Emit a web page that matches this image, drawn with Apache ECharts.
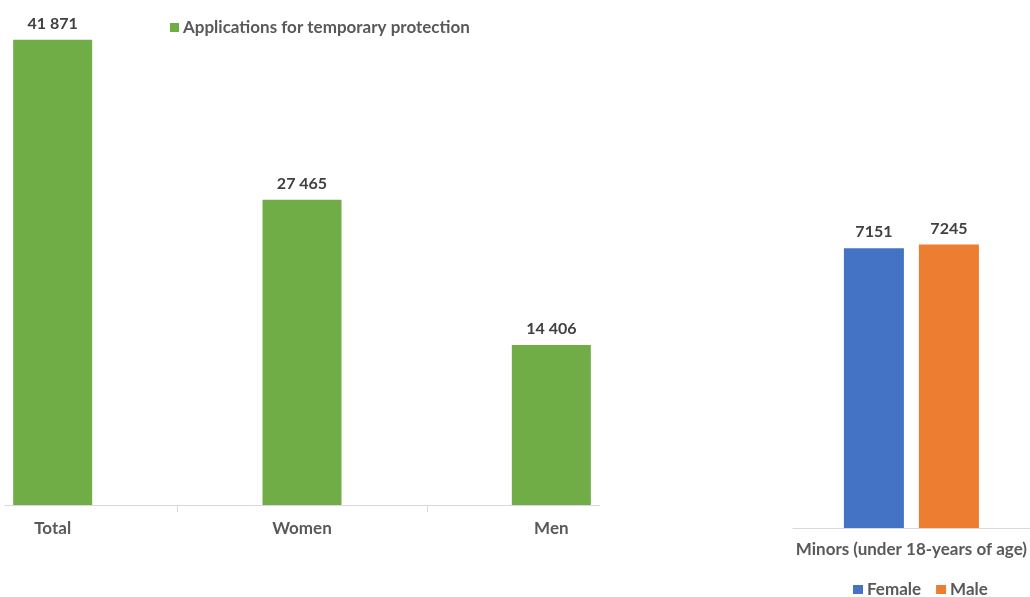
<!DOCTYPE html>
<html>
<head>
<meta charset="utf-8">
<title>Applications for temporary protection</title>
<script src="https://cdn.jsdelivr.net/npm/echarts@6/dist/echarts.min.js"></script>
<style>
  html, body { margin: 0; padding: 0; background: #ffffff; overflow: hidden; }
  #wrap { width: 1030px; height: 597px; overflow: hidden; position: relative; }
  /* the canvas is a little wider than the page: the first category band runs past the left edge */
  #chart { position: absolute; left: -72px; top: 0; width: 1102px; height: 597px; }
</style>
</head>
<body>
<div id="wrap"><div id="chart"></div></div>
<script>
// Applications by group
const groupCategories = ['Total', 'Women', 'Men'];
const groupValues = [41871, 27465, 14406];
const groupSeriesName = 'Applications for temporary protection';

// Minors split by sex
const minorCategories = ['Minors (under 18-years of age)'];
const femaleValues = [7151];
const maleValues = [7245];

const FONT = 'Lato, "Open Sans", sans-serif';
const AXIS_GRAY = '#d9d9d9';
const LABEL_GRAY = '#595959';
const VALUE_GRAY = '#404040';

// Thousands with a space separator, e.g. 41 871
function spaced(v) {
  return String(v).replace(/\B(?=(\d{3})+(?!\d))/g, ' ');
}

const chart = echarts.init(document.getElementById('chart'), null, { renderer: 'canvas' });

const valueLabel = {
  show: true, position: 'top', distance: 8,
  color: VALUE_GRAY, fontSize: 16, fontWeight: 'bold', fontFamily: FONT
};

const option = {
  animation: false,
  backgroundColor: '#ffffff',
  textStyle: { fontFamily: FONT },
  grid: [
    { left: 0, top: 5, width: 748, height: 500 },
    { left: 865, top: 215, width: 237, height: 313 }
  ],
  xAxis: [
    {
      type: 'category', gridIndex: 0, data: groupCategories,
      axisLine: { show: false },
      axisTick: { show: false },
      axisLabel: { color: LABEL_GRAY, fontSize: 17, fontWeight: 'bold', fontFamily: FONT, margin: 15 }
    },
    {
      type: 'category', gridIndex: 1, data: minorCategories,
      axisLine: { show: true, lineStyle: { color: AXIS_GRAY, width: 1 } },
      axisTick: { show: false },
      axisLabel: { color: LABEL_GRAY, fontSize: 17, fontWeight: 'bold', fontFamily: FONT, margin: 13 }
    }
  ],
  yAxis: [
    { type: 'value', gridIndex: 0, min: 0, max: 45000, show: false, splitLine: { show: false } },
    { type: 'value', gridIndex: 1, min: 0, max: 8000, show: false, splitLine: { show: false } }
  ],
  legend: [
    {
      data: [groupSeriesName],
      left: 237, top: 14,
      icon: 'rect', itemWidth: 9, itemHeight: 9, itemGap: 10,
      textStyle: { color: LABEL_GRAY, fontSize: 17, fontWeight: 'bold', fontFamily: FONT, padding: [0, 0, 0, -1] }
    },
    {
      data: ['Female', 'Male'],
      left: 920, top: 576,
      icon: 'rect', itemWidth: 10, itemHeight: 9, itemGap: 15,
      textStyle: { color: LABEL_GRAY, fontSize: 17, fontWeight: 'bold', fontFamily: FONT, padding: [0, 0, 0, -1] }
    }
  ],
  series: [
    {
      name: groupSeriesName, type: 'bar',
      xAxisIndex: 0, yAxisIndex: 0,
      data: groupValues,
      barWidth: 79,
      itemStyle: { color: '#70AD47' },
      label: Object.assign({}, valueLabel, { formatter: p => spaced(p.value) })
    },
    {
      name: 'Female', type: 'bar',
      xAxisIndex: 1, yAxisIndex: 1,
      data: femaleValues,
      barWidth: 60, barGap: '25%',
      itemStyle: { color: '#4472C4' },
      label: valueLabel
    },
    {
      name: 'Male', type: 'bar',
      xAxisIndex: 1, yAxisIndex: 1,
      data: maleValues,
      barWidth: 60, barGap: '25%',
      itemStyle: { color: '#ED7D31' },
      label: valueLabel
    }
  ]
};

chart.setOption(option);

// Baseline and the tick marks between category bands of the group chart,
// placed from the axis scale (band edges sit halfway between category centres).
const base = chart.convertToPixel({ gridIndex: 0 }, [0, 0]);
const centres = groupCategories.map(c => chart.convertToPixel({ xAxisIndex: 0 }, c));
const baseY = Math.round(base[1]);
const graphics = [{
  type: 'line', silent: true,
  shape: { x1: 76, y1: baseY + 0.5, x2: 672, y2: baseY + 0.5 },
  style: { stroke: AXIS_GRAY, lineWidth: 1 }
}];
for (let i = 1; i < centres.length; i++) {
  const x = Math.round((centres[i - 1] + centres[i]) / 2) + 0.5;
  graphics.push({
    type: 'line', silent: true,
    shape: { x1: x, y1: baseY, x2: x, y2: baseY + 7 },
    style: { stroke: AXIS_GRAY, lineWidth: 1 }
  });
}
chart.setOption({ graphic: graphics });
</script>
</body>
</html>
